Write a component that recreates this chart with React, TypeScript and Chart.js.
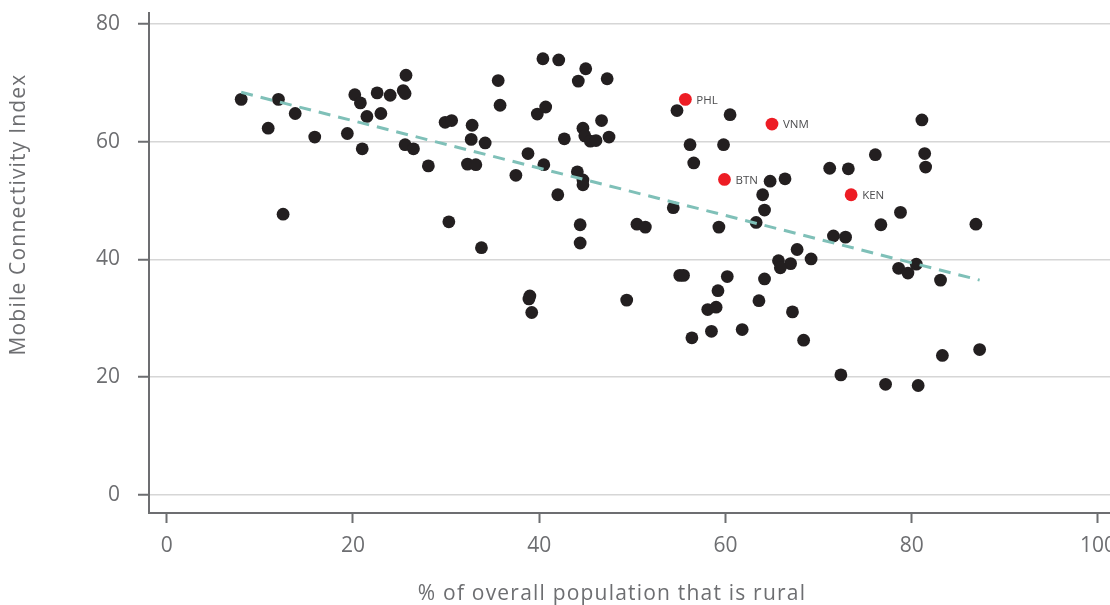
import { useEffect, useRef } from "react";
import { Chart, registerables } from "chart.js";

Chart.register(...registerables);

// Share of the population living in rural areas (%), one entry per country
const ruralPct = [
  8.0, 12.0, 10.9, 13.8, 12.5, 15.9, 19.4, 20.2, 20.8, 21.5,
  21.0, 22.6, 24.0, 23.0, 25.7, 25.4, 25.6, 25.6, 26.5, 28.1,
  29.9, 30.6, 30.3, 32.8, 32.7, 32.3, 33.2, 34.2, 35.6, 35.8,
  37.5, 38.8, 40.4, 42.1, 39.8, 40.7, 40.5, 42.0, 42.7, 45.0,
  44.2, 47.3, 44.7, 44.9, 45.5, 46.1, 46.7, 47.5, 44.1, 44.7,
  44.7, 44.4, 44.4, 50.5, 51.4, 54.4, 54.8, 60.5, 56.2, 59.8,
  56.6, 64.8, 66.4, 64.0, 64.2, 63.3, 59.3, 81.1, 76.1, 81.4,
  81.5, 71.2, 73.2, 78.8, 76.7, 86.9, 71.6, 72.9, 67.7, 69.2,
  67.0, 78.6, 79.6, 80.5, 83.1, 67.2, 68.4, 72.4, 77.2, 80.7,
  83.3, 87.3, 33.8, 65.7, 65.9, 39.0, 38.9, 39.2, 49.4, 55.1,
  55.5, 60.2, 59.2, 58.1, 59.0, 56.4, 58.5, 61.8, 64.2, 63.6,
];

// Mobile Connectivity Index for the same countries
const connectivity = [
  67.2, 67.2, 62.3, 64.8, 47.7, 60.8, 61.4, 68.0, 66.6, 64.3,
  58.8, 68.3, 67.9, 64.8, 71.3, 68.7, 68.2, 59.5, 58.8, 55.9,
  63.3, 63.6, 46.4, 62.8, 60.4, 56.2, 56.1, 59.8, 70.4, 66.2,
  54.3, 58.0, 74.1, 73.9, 64.7, 65.9, 56.1, 51.0, 60.5, 72.4,
  70.3, 70.7, 62.3, 61.0, 60.1, 60.2, 63.6, 60.8, 54.9, 53.5,
  52.7, 45.9, 42.8, 46.0, 45.5, 48.8, 65.3, 64.6, 59.5, 59.5,
  56.4, 53.3, 53.7, 51.0, 48.4, 46.3, 45.5, 63.7, 57.8, 58.0,
  55.7, 55.5, 55.4, 48.0, 45.9, 46.0, 44.0, 43.8, 41.7, 40.1,
  39.3, 38.5, 37.7, 39.2, 36.5, 31.1, 26.3, 20.4, 18.8, 18.6,
  23.7, 24.7, 42.0, 39.8, 38.6, 33.8, 33.3, 31.0, 33.1, 37.3,
  37.3, 37.1, 34.7, 31.5, 31.9, 26.7, 27.8, 28.1, 36.7, 33.0,
];

// Highlighted countries
const highlightCodes = ["PHL", "VNM", "BTN", "KEN"];
const highlightRural = [55.7, 65.0, 59.9, 73.5];
const highlightIndex = [67.2, 63.0, 53.6, 51.0];

// Fitted trend line end points
const trendRural = [8.0, 87.3];
const trendIndex = [68.4, 36.5];

const xTicks = [0, 20, 40, 60, 80, 100];
const yTicks = [0, 20, 40, 60, 80];

const xTitle = "% of overall population that is rural";
const yTitle = "Mobile Connectivity Index";

const FONT = "'Open Sans', 'Noto Sans', sans-serif";
const TEXT_COLOR = "#6d6e71";
const AXIS_COLOR = "#6d6e71";

const toPoints = (xs: number[], ys: number[]) => xs.map((x, i) => ({ x, y: ys[i] }));

const annotations = {
  id: "annotations",
  afterDatasetsDraw(chart: any) {
    const ctx = chart.ctx as CanvasRenderingContext2D;
    const meta = chart.getDatasetMeta(1);
    ctx.save();
    ctx.font = `11.5px ${FONT}`;
    ctx.fillStyle = "#4d4d4f";
    ctx.textAlign = "left";
    ctx.textBaseline = "middle";
    meta.data.forEach((el: any, i: number) => {
      ctx.fillText(highlightCodes[i], el.x + 11, el.y + 1);
    });
    ctx.restore();
  },
  afterDraw(chart: any) {
    const ctx = chart.ctx as CanvasRenderingContext2D;
    ctx.save();
    ctx.font = `21px ${FONT}`;
    (ctx as any).letterSpacing = "1.2px";
    ctx.fillStyle = TEXT_COLOR;
    ctx.textAlign = "center";
    ctx.textBaseline = "middle";
    ctx.fillText(xTitle, 612, 594);
    ctx.translate(19, 214.5);
    ctx.rotate(-Math.PI / 2);
    ctx.fillText(yTitle, 0, 0);
    ctx.restore();
  },
};

export default function App() {
  const canvasRef = useRef<HTMLCanvasElement>(null);

  useEffect(() => {
    document.body.style.margin = "0";
    const chart = new Chart(canvasRef.current!, {
      type: "scatter",
      data: {
        datasets: [
          {
            type: "line",
            data: toPoints(trendRural, trendIndex),
            showLine: true,
            borderColor: "#7fc0b8",
            borderWidth: 3,
            borderDash: [12, 8],
            pointRadius: 0,
            fill: false,
            order: 0,
          } as any,
          {
            data: toPoints(highlightRural, highlightIndex),
            backgroundColor: "#ed1c24",
            pointRadius: 6.4,
            pointBorderWidth: 0,
            order: 1,
          },
          {
            data: toPoints(ruralPct, connectivity),
            backgroundColor: "#231f20",
            pointRadius: 6.4,
            pointBorderWidth: 0,
            order: 2,
          },
        ],
      },
      options: {
        animation: false,
        responsive: false,
        devicePixelRatio: 1,
        layout: { padding: { top: 13, right: 30, left: 0, bottom: 0 } },
        plugins: { legend: { display: false }, tooltip: { enabled: false } },
        scales: {
          x: {
            type: "linear",
            min: -1.9,
            max: 101.3,
            afterBuildTicks: (s: any) => {
              s.ticks = xTicks.map((v) => ({ value: v }));
            },
            afterFit: (s: any) => {
              s.height = 92;
              s.paddingLeft = 0;
              s.paddingRight = 0;
            },
            grid: {
              display: true,
              drawOnChartArea: false,
              drawTicks: true,
              tickLength: 10,
              tickColor: AXIS_COLOR,
              tickWidth: 2,
            },
            border: { display: true, color: AXIS_COLOR, width: 2 },
            ticks: {
              color: TEXT_COLOR,
              font: { family: FONT, size: 21 },
              padding: 10,
              maxRotation: 0,
              autoSkip: false,
            },
          },
          y: {
            type: "linear",
            min: -3.06,
            max: 81.87,
            afterBuildTicks: (s: any) => {
              s.ticks = yTicks.map((v) => ({ value: v }));
            },
            afterFit: (s: any) => {
              s.width = 149;
              s.paddingTop = 0;
              s.paddingBottom = 0;
            },
            grid: {
              color: "#d6d6d6",
              lineWidth: 1.5,
              drawTicks: true,
              tickLength: 11,
              tickColor: AXIS_COLOR,
              tickWidth: 2,
            },
            border: { display: true, color: AXIS_COLOR, width: 2 },
            ticks: {
              color: TEXT_COLOR,
              font: { family: FONT, size: 21 },
              padding: 18,
              autoSkip: false,
            },
          },
        },
      },
      plugins: [annotations],
    });
    return () => chart.destroy();
  }, []);

  return (
    <div style={{ width: 1110, height: 605, overflow: "hidden", position: "relative" }}>
      <canvas ref={canvasRef} width={1140} height={605} style={{ display: "block" }} />
    </div>
  );
}
